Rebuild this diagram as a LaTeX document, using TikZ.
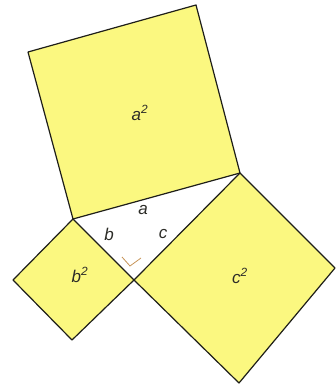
\documentclass[tikz,border=0pt]{standalone}
\usepackage{fontspec}
\setmainfont{Liberation Sans}
\definecolor{sqfill}{RGB}{251,248,128}
\definecolor{edgecol}{RGB}{30,30,25}
\definecolor{txtcol}{RGB}{45,45,40}
\definecolor{markcol}{RGB}{200,150,90}
\begin{document}
\begin{tikzpicture}[x=1pt,y=-1pt,
  sq/.style={fill=sqfill,draw=edgecol,line width=1.2pt,line join=round},
  lbl/.style={text=txtcol,font=\fontsize{17}{19}\selectfont\itshape,inner sep=0pt},
  anglemark/.style={draw=markcol,line width=0.8pt}]
\useasboundingbox (0,0) rectangle (336,385);
\fill[white] (0,0) rectangle (336,385);
% triangle vertices
\coordinate (A) at (73,219);
\coordinate (B) at (240,173);
\coordinate (C) at (134,280);
% square on a
\coordinate (TL) at (28,52);
\coordinate (TR) at (196,5);
% square on b
\coordinate (BL) at (13,280);
\coordinate (BB) at (72,340);
% square on c
\coordinate (CR) at (335,268);
\coordinate (CB) at (239,383);
\draw[sq] (A) -- (B) -- (TR) -- (TL) -- cycle;
\draw[sq] (A) -- (C) -- (BB) -- (BL) -- cycle;
\draw[sq] (C) -- (B) -- (CR) -- (CB) -- cycle;
% right angle mark
\coordinate (m1) at (122,257);
\coordinate (m0) at (130,266);
\coordinate (m2) at (141,258);
\draw[anglemark] (m1) -- (m0) -- (m2);
% labels
\node[lbl] (la2) at (140,113) {a\textsuperscript{2}};
\node[lbl] (lb2) at (80,275) {b\textsuperscript{2}};
\node[lbl] (lc2) at (240,276) {c\textsuperscript{2}};
\node[lbl] (la) at (143,210) {a};
\node[lbl] (lb) at (109,234) {b};
\node[lbl] (lc) at (163,234) {c};
\end{tikzpicture}
\end{document}
